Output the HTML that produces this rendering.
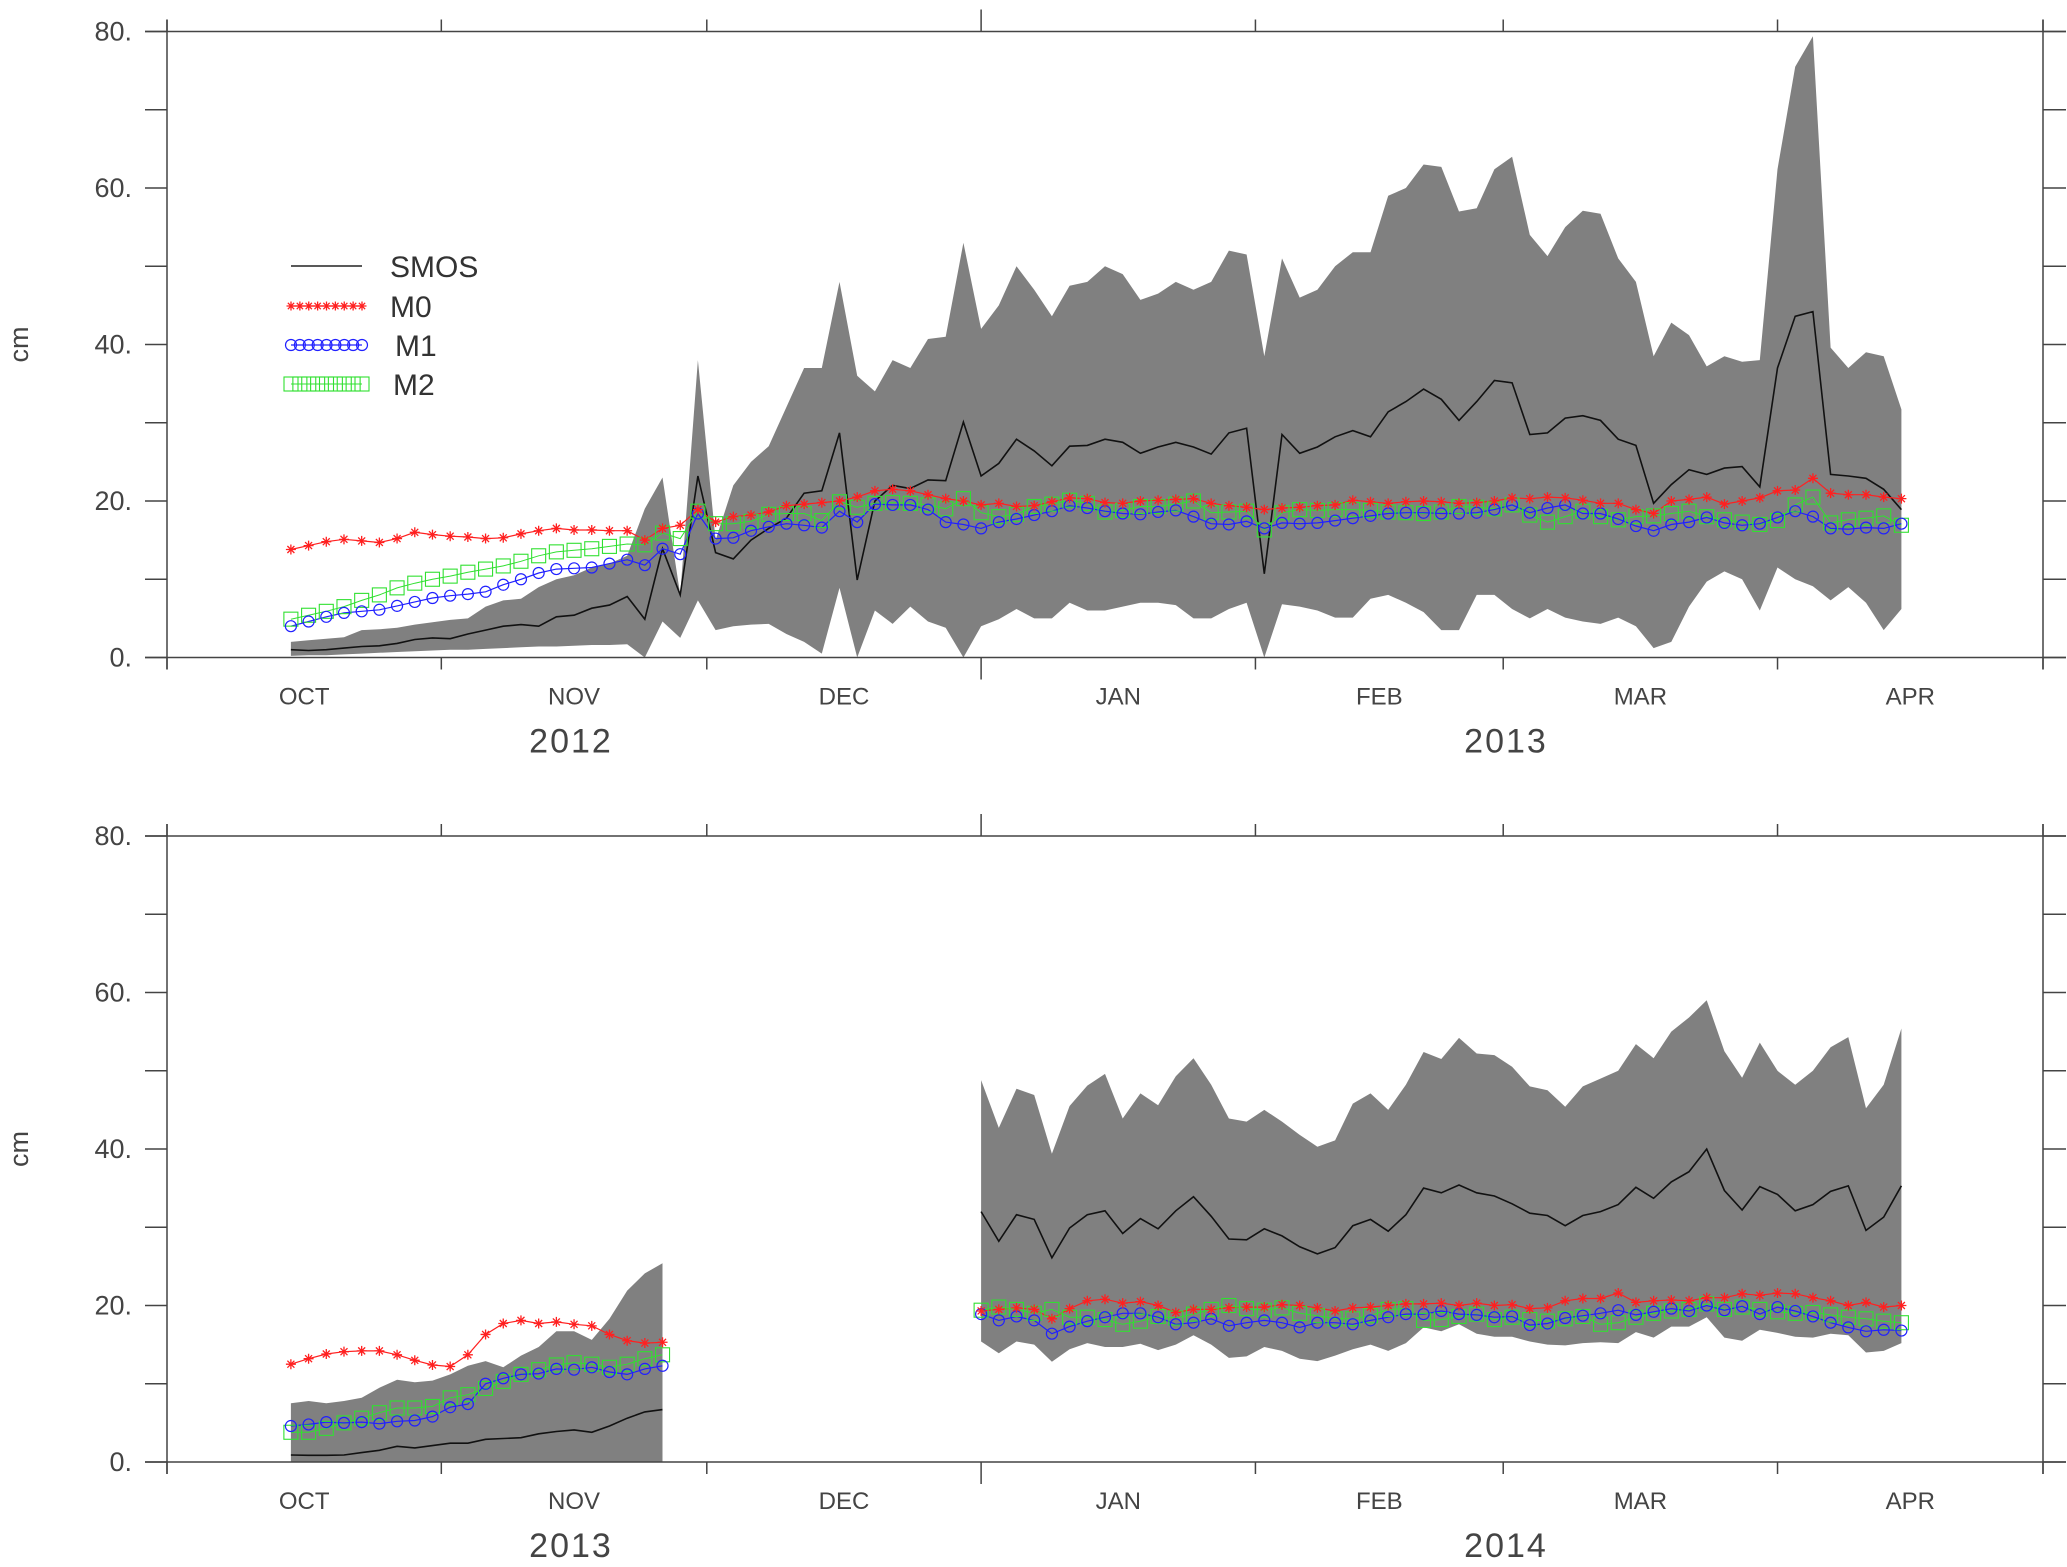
<!DOCTYPE html>
<html><head><meta charset="utf-8"><style>
html,body{margin:0;padding:0;background:#fff;}
svg{display:block;font-family:"Liberation Sans",sans-serif;}
</style></head><body>
<svg id="chart" width="2067" height="1567" viewBox="0 0 2067 1567" xmlns="http://www.w3.org/2000/svg">
<g id="top"></g>
<g id="bot"></g>
<g>
  <line x1="291" y1="266" x2="362" y2="266" stroke="#222" stroke-width="1.5"/>
  <text x="390" y="277" font-size="30" fill="#333">SMOS</text>
  <g id="legM0"></g>
  <text x="390" y="317" font-size="30" fill="#333">M0</text>
  <g id="legM1"></g>
  <text x="395" y="356" font-size="30" fill="#333">M1</text>
  <g id="legM2"></g>
  <text x="393" y="395" font-size="30" fill="#333">M2</text>
</g>
</svg>
<script>
// ---------- data ----------
const monthLabels = ["OCT","NOV","DEC","JAN","FEB","MAR","APR"];
const monthStartDays = [0,31,61,92,123,151,182,212];
const yTickLabels = ["0.","20.","40.","60.","80."];
const yTickValues = [0,20,40,60,80];
const topYears = ["2012","2013"];
const botYears = ["2013","2014"];

const daysTop = Array.from({length:92},(_, i)=>14+2*i);
const topUpper = [2,2.2,2.4,2.6,3.5,3.6,3.8,4.2,4.5,
4.8,5,6.5,7.3,7.5,9,10,10.5,11.5,12,13,
19,23,8,38,15,22,25,27,32,37,37,48,36,34,38,37,40.7,41,53,
42,45,50,47,43.6,47.5,48,50,49,45.7,46.5,48,47,48,52,51.5,
38.5,51,46,47,50,51.8,51.8,59,60,63,62.7,57,57.4,62.4,64,
54,51.3,55,57.1,56.7,51,48,38.5,42.8,41.2,37.2,38.5,37.8,38,
62.4,75.5,79.4,39.6,37,39,38.5,31.7];
const topLower = [0.2,0.3,0.3,0.4,0.5,0.6,0.7,0.8,0.9,
1,1,1.1,1.2,1.3,1.4,1.4,1.5,1.6,1.6,1.7,
0,4.6,2.5,7.3,3.5,4,4.2,4.3,3,2,0.5,8.9,0,6,4.3,6.5,4.6,3.8,0,
4,4.9,6.2,5,5,7,6,6,6.5,7,7,6.7,5,5,6.2,7,
0,6.8,6.5,6,5.1,5.1,7.5,8,7,5.8,3.5,3.5,8,8,6.2,
5,6.2,5.1,4.6,4.3,5.1,4,1.2,2,6.5,9.7,11,10,6,
11.5,10,9.1,7.3,9,7,3.5,6.2];
const topSmos = [1,0.9,1,1.2,1.4,1.5,1.8,2.3,2.5,
2.4,3,3.5,4,4.2,4,5.2,5.4,6.3,6.7,7.8,
4.9,13.9,8,23.2,13.4,12.6,15,16.5,17.8,21,21.3,28.7,9.9,20,22,21.6,22.7,22.6,30.1,
23.2,24.8,27.9,26.4,24.5,27,27.1,27.9,27.5,26.1,26.9,27.5,26.9,26,28.7,29.3,
10.7,28.5,26.1,26.9,28.2,29,28.2,31.4,32.7,34.3,33,30.3,32.7,35.4,35.1,
28.5,28.7,30.6,30.9,30.3,27.9,27.1,19.7,22.1,24,23.4,24.2,24.4,21.8,
37,43.6,44.2,23.4,23.2,22.9,21.5,18.9];
const topM0 = [13.8,14.3,14.8,15.1,14.9,14.7,15.2,16,15.7,
15.5,15.4,15.2,15.3,15.8,16.2,16.5,16.3,16.3,16.2,16.2,
15,16.5,16.9,18.9,17.3,18,18.2,18.6,19.4,19.6,19.8,20,20.5,21.3,21.5,21.3,20.8,20.3,20,
19.5,19.7,19.3,19.4,19.9,20.4,20.3,19.8,19.7,20,20.1,20.2,20.3,19.7,19.4,19.2,
18.9,19.1,19.2,19.4,19.5,20.1,19.9,19.7,19.9,20,19.9,19.7,19.8,20,20.4,
20.3,20.5,20.4,20.1,19.7,19.7,18.9,18.4,20,20.2,20.5,19.6,20,20.4,
21.3,21.4,22.9,21,20.8,20.8,20.5,20.3];
const topM1 = [4,4.6,5.2,5.7,5.9,6.1,6.6,7.1,7.6,
7.9,8.1,8.4,9.3,10,10.8,11.3,11.4,11.5,12,12.5,
11.8,13.9,13.2,18.4,15.2,15.3,16.2,16.7,17.1,16.9,16.6,18.7,17.3,19.6,19.5,19.5,18.9,17.3,17,
16.5,17.3,17.7,18.2,18.7,19.4,19.1,18.7,18.4,18.3,18.6,18.8,18,17.1,17,17.4,
16.5,17.2,17.1,17.2,17.5,17.8,18.1,18.4,18.5,18.5,18.4,18.4,18.5,18.9,19.5,
18.5,19.1,19.5,18.4,18.4,17.7,16.8,16.2,17,17.3,17.9,17.2,16.9,17.1,
17.9,18.7,18,16.5,16.4,16.6,16.5,17.1];
const topM2 = [4.9,5.4,5.9,6.5,7.3,8,8.9,9.5,10,
10.4,10.9,11.3,11.7,12.3,13,13.5,13.7,13.9,14.2,14.5,
14.4,15.9,15.2,18.7,17.1,17.1,17.4,18.3,18.4,18.4,17.5,19.9,19.2,19.7,19.8,19.7,19.5,19,20.3,
18.5,18,18.3,19.3,19.6,20.1,19.7,18.6,18.8,19.3,19.3,19.6,20,18.5,18.6,18.7,
16.3,18.5,18.9,18.8,18.9,18.9,18.8,18.6,18.5,18.4,18.6,19.3,19.2,19,19.5,
18.2,17.3,18,18.7,18,17.6,18,18.1,18.4,18.7,18,17.6,17.3,17,
17.5,19.5,20.5,17.2,17.6,17.8,18.1,16.9];

const daysBotA = Array.from({length:22},(_, i)=>14+2*i);
const botAUpper = [7.5,7.8,7.5,7.8,8.2,9.5,10.5,10.2,10.4,11.2,12.3,12.9,12.1,13.6,14.7,16.7,16.7,15.6,18.3,21.9,24.1,25.4];
const botALower = [0,0,0,0,0,0,0,0,0,0,0,0,0,0,0,0,0,0,0,0,0,0];
const botASmos = [0.9,0.85,0.85,0.9,1.2,1.5,2,1.8,2.1,2.4,2.4,2.9,3,3.1,3.6,3.9,4.1,3.8,4.6,5.6,6.4,6.7];
const botAM0 = [12.5,13.2,13.8,14.1,14.2,14.2,13.7,13,12.4,12.2,13.7,16.3,17.7,18.1,17.7,17.9,17.6,17.4,16.3,15.5,15.2,15.3];
const botAM1 = [4.6,4.8,5.1,5,5.1,4.9,5.2,5.3,5.8,7,7.4,10,10.7,11.2,11.3,11.9,11.8,12.1,11.5,11.2,11.9,12.3];
const botAM2 = [3.8,3.8,4.3,5,5.6,6.3,6.9,6.9,7.1,8.2,8.6,9.4,10.3,11.2,11.8,12.4,12.7,12.5,12.1,12.5,13.2,13.7];

const daysBotB = Array.from({length:53},(_, i)=>92+2*i);
const botBUpper = [48.8,42.7,47.7,46.9,39.4,45.5,48.1,49.6,43.9,47.1,45.6,49.3,51.6,48.2,43.9,43.5,45,43.5,41.8,40.3,41.1,45.8,47.1,45,48.2,52.4,51.5,54.2,52.2,52,50.5,48,47.5,45.4,48,49,50,53.4,51.6,55,56.8,59,52.5,49.1,53.6,50,48.2,50,53,54.3,45.2,48.2,55.4];
const botBLower = [15.4,13.9,15.4,15,12.8,14.4,15.2,14.7,14.7,15.1,14.3,15,16.2,15,13.3,13.5,14.7,14.2,13.2,12.9,13.6,14.4,15,14.2,15.2,17.2,16.7,17.6,16.4,16,16,15.4,15,14.9,15.2,15.3,15.2,16.6,15.9,17.3,17.3,18.5,15.9,15.5,16.9,16.5,16,15.9,16.4,16.2,14,14.2,15.2];
const botBSmos = [32,28.2,31.6,31,26.1,29.9,31.6,32.1,29.2,31.1,29.8,32.1,33.9,31.4,28.5,28.4,29.8,28.9,27.5,26.6,27.4,30.2,31,29.5,31.6,35,34.4,35.4,34.4,34,33,31.8,31.5,30.2,31.5,32,32.9,35.1,33.7,35.8,37.1,40,34.7,32.2,35.2,34.2,32.1,32.9,34.6,35.3,29.6,31.3,35.3];
const botBM0 = [19.3,19.5,19.7,19.5,18.3,19.6,20.6,20.8,20.3,20.5,20,19.1,19.5,19.5,19.7,19.8,19.8,20.1,20,19.7,19.3,19.7,19.8,20,20.2,20.2,20.3,20,20.3,20,20.1,19.6,19.7,20.6,20.9,20.9,21.6,20.4,20.6,20.7,20.6,21,21,21.5,21.3,21.6,21.5,21,20.6,20,20.4,19.8,20];
const botBM1 = [18.9,18.1,18.6,18.1,16.4,17.3,18,18.5,19,19,18.5,17.6,17.8,18.3,17.4,17.8,18.1,17.8,17.2,17.8,17.8,17.6,18.1,18.5,18.9,18.9,19.3,18.9,18.8,18.5,18.6,17.5,17.7,18.4,18.7,19,19.4,18.8,19.2,19.6,19.3,20,19.4,19.9,18.9,19.8,19.3,18.6,17.8,17.2,16.7,16.9,16.8];
const botBM2 = [19.4,19.8,19.5,19,19.5,18.5,18.5,18.2,17.6,18,18.6,18.4,18.9,19.5,20,19.6,19.4,19.7,19,18.7,18.3,18.3,18.7,19.5,19.6,18.1,18.2,18.6,18.9,18.2,18.5,18.2,18,18.3,18.6,17.6,17.8,18.5,19,19.3,19.5,20.2,19.5,19.8,19.5,19.2,19,19.1,18.8,18.5,18.3,18,17.8];

// ---------- drawing ----------
const NS = "http://www.w3.org/2000/svg";
const X0 = 167, X1 = 2043, TOTALDAYS = 212;
const xScale = d => X0 + d * (X1 - X0) / TOTALDAYS;
function mk(tag, attrs, parent){
  const e = document.createElementNS(NS, tag);
  for (const k in attrs) e.setAttribute(k, attrs[k]);
  parent.appendChild(e); return e;
}
function star(g, x, y, s){
  const p = `M${x-s},${y}L${x+s},${y}M${x},${y-s}L${x},${y+s}M${x-s*0.7},${y-s*0.7}L${x+s*0.7},${y+s*0.7}M${x-s*0.7},${y+s*0.7}L${x+s*0.7},${y-s*0.7}`;
  const e = mk('path', {d:p, stroke:'#ff2020', 'stroke-width':1.3, fill:'none'}, g);
  
  
}
function circ(g, x, y){
  const e = mk('circle', {cx:x, cy:y, r:5.5, stroke:'#2020ff', 'stroke-width':1.2, fill:'none'}, g);
  
  
}
function sq(g, x, y){
  const e = mk('rect', {x:x-7, y:y-7, width:14, height:14, stroke:'#30e030', 'stroke-width':1.1, fill:'none'}, g);
  
  
}
function drawPanel(g, top, bottom, years, segs){
  const yScale = v => bottom - v * (bottom - top) / 80;
  // band + lines
  segs.forEach(s => {
    const n = s.days.length;
    let d = '';
    for (let i=0;i<n;i++) d += (i?'L':'M') + xScale(s.days[i]).toFixed(1) + ',' + yScale(s.upper[i]).toFixed(1);
    for (let i=n-1;i>=0;i--) d += 'L' + xScale(s.days[i]).toFixed(1) + ',' + yScale(s.lower[i]).toFixed(1);
    const band = mk('path', {d:d+'Z', fill:'#808080', stroke:'none'}, g);
    
    
    const line = (vals, color, w, name) => {
      let p = '';
      for (let i=0;i<n;i++) p += (i?'L':'M') + xScale(s.days[i]).toFixed(1) + ',' + yScale(vals[i]).toFixed(1);
      const e = mk('path', {d:p, stroke:color, 'stroke-width':w, fill:'none'}, g);
      
      
    };
    line(s.smos, '#111', 1.6, 'smos-line');
    line(s.m0, '#ff2020', 1.2, 'm0-line');
    line(s.m2, '#30e030', 1.0, 'm2-line');
    line(s.m1, '#2020ff', 1.2, 'm1-line');
    const mg = mk('g', {}, g);
    
    
    for (let i=0;i<n;i++){
      const x = xScale(s.days[i]);
      sq(mg, x, yScale(s.m2[i]));
      circ(mg, x, yScale(s.m1[i]));
      star(mg, x, yScale(s.m0[i]), 5);
    }
  });
  // axes box
  const ax = mk('g', {stroke:'#444', 'stroke-width':1.5, fill:'none'}, g);
  
  
  mk('line', {x1:145, y1:top, x2:2066, y2:top}, ax);
  mk('line', {x1:145, y1:bottom, x2:2066, y2:bottom}, ax);
  mk('line', {x1:X0, y1:top-12, x2:X0, y2:bottom+12}, ax);
  mk('line', {x1:X1, y1:top-12, x2:X1, y2:bottom+12}, ax);
  // y ticks
  for (let v=0; v<=80; v+=10){
    const y = yScale(v);
    mk('line', {x1:145, y1:y, x2:X0, y2:y}, ax);
    mk('line', {x1:X1, y1:y, x2:2066, y2:y}, ax);
  }
  yTickValues.forEach((v,i) => {
    const t = mk('text', {x:132, y:yScale(v)+9, 'font-size':27, 'text-anchor':'end', fill:'#444', stroke:'none'}, g);
    t.textContent = yTickLabels[i];
    
    
  });
  const yt = mk('text', {x:0, y:0, 'font-size':27, 'text-anchor':'middle', fill:'#444', transform:`translate(28,${(top+bottom)/2}) rotate(-90)`}, g);
  yt.textContent = 'cm';
  
  
  // x ticks
  monthStartDays.forEach(d => {
    const x = xScale(d);
    const L = (d === 92) ? 22 : 12;
    mk('line', {x1:x, y1:top-L, x2:x, y2:top}, ax);
    mk('line', {x1:x, y1:bottom, x2:x, y2:bottom+L}, ax);
  });
  monthLabels.forEach((m,i) => {
    const x = xScale((monthStartDays[i]+monthStartDays[i+1])/2);
    const t = mk('text', {x:x, y:bottom+47, 'font-size':24, 'text-anchor':'middle', fill:'#444'}, g);
    t.textContent = m;
    
    
  });
  [[571, years[0]],[1506, years[1]]].forEach(([x, yr]) => {
    const t = mk('text', {x:x, y:bottom+95, 'font-size':34, 'text-anchor':'middle', fill:'#444', 'letter-spacing':'2'}, g);
    t.textContent = yr;
    
    
  });
}
drawPanel(document.getElementById('top'), 31.5, 657.5, topYears, [
  {days:daysTop, upper:topUpper, lower:topLower, smos:topSmos, m0:topM0, m1:topM1, m2:topM2}
]);
drawPanel(document.getElementById('bot'), 836, 1462, botYears, [
  {days:daysBotA, upper:botAUpper, lower:botALower, smos:botASmos, m0:botAM0, m1:botAM1, m2:botAM2},
  {days:daysBotB, upper:botBUpper, lower:botBLower, smos:botBSmos, m0:botBM0, m1:botBM1, m2:botBM2}
]);
// legend markers
(function(){
  const g0 = document.getElementById('legM0'), g1 = document.getElementById('legM1'), g2 = document.getElementById('legM2');
  mk('line', {x1:291, y1:306, x2:362, y2:306, stroke:'#ff2020', 'stroke-width':1.2}, g0);
  mk('line', {x1:291, y1:345, x2:362, y2:345, stroke:'#2020ff', 'stroke-width':1.2}, g1);
  mk('line', {x1:291, y1:384, x2:362, y2:384, stroke:'#30e030', 'stroke-width':1.0}, g2);
  for (let i=0;i<9;i++){
    const x = 291 + i*71/8;
    star(g0, x, 306, 4.5);
    circ(g1, x, 345);
    sq(g2, x, 384);
  }
})();
</script>
</body></html>
